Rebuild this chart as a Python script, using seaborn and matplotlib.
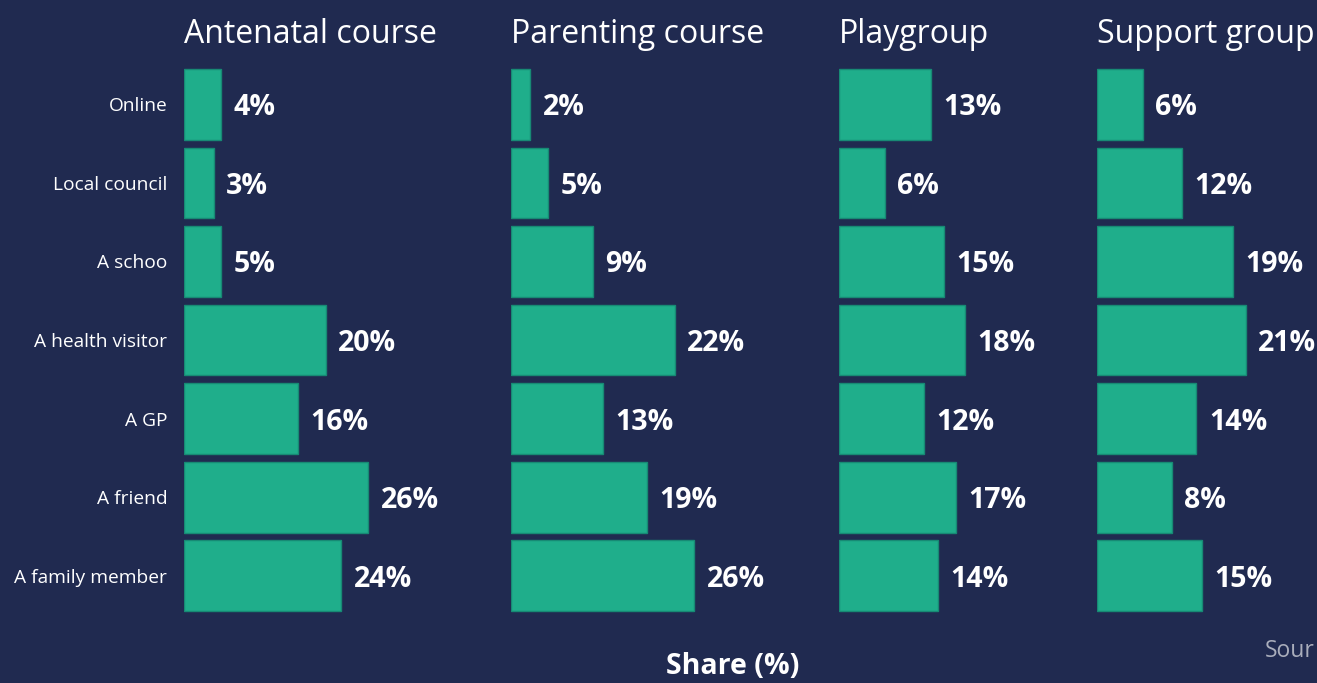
import pandas as pd
import matplotlib.pyplot as plt
import seaborn as sns

# where people heard about each kind of support
sources = ["Online", "Local council", "A schoo", "A health visitor", "A GP", "A friend", "A family member"]
panels = ["Antenatal course", "Parenting course", "Playgroup", "Support group"]

# bar lengths as drawn
antenatal = [5.3, 4.2, 5.3, 20.1, 16.1, 26.1, 22.3]
parenting = [2.7, 5.3, 11.6, 23.2, 13.0, 19.3, 26.0]
playgroup = [13.0, 6.5, 14.9, 17.9, 12.1, 16.6, 14.0]
support = [6.5, 12.1, 19.3, 21.1, 14.1, 10.6, 14.9]

# printed value labels
antenatal_lbl = ["4%", "3%", "5%", "20%", "16%", "26%", "24%"]
parenting_lbl = ["2%", "5%", "9%", "22%", "13%", "19%", "26%"]
playgroup_lbl = ["13%", "6%", "15%", "18%", "12%", "17%", "14%"]
support_lbl = ["6%", "12%", "19%", "21%", "14%", "8%", "15%"]

values = [antenatal, parenting, playgroup, support]
labels = [antenatal_lbl, parenting_lbl, playgroup_lbl, support_lbl]

bg = "#202a50"
teal = "#1fae8b"

sns.set_theme(style="white")
plt.rcParams["font.family"] = ["Open Sans", "DejaVu Sans"]

W, H = 1317, 683
fig = plt.figure(figsize=(W / 100, H / 100), dpi=100, facecolor=bg)

px_per_pct = 7.05
lefts = [184, 511, 839, 1097]
widths = [316, 317, 247, 300]
top, bottom = 65, 615

for i, name in enumerate(panels):
    df = pd.DataFrame({"source": sources, "share": values[i]})
    ax = fig.add_axes([lefts[i] / W, 1 - bottom / H, widths[i] / W, (bottom - top) / H])
    ax.set_facecolor("none")
    sns.barplot(data=df, x="share", y="source", orient="h", color=teal, width=0.9,
                edgecolor="#178a74", linewidth=1, saturation=1, ax=ax)
    ax.set_xlim(0, widths[i] / px_per_pct)
    ax.set_ylim(6.5, -0.5)
    txts = ax.bar_label(ax.containers[0], labels=labels[i], padding=9, color="white",
                        fontsize=20.5, fontweight="bold")
    for t in txts:
        # nudge labels a touch lower, like the original
        t.set_y(t.get_position()[1] - 2.5)
    ax.set_title(name, loc="left", color="white", fontsize=23, pad=16)
    ax.set_xlabel("")
    ax.set_ylabel("")
    ax.set_xticks([])
    sns.despine(ax=ax, left=True, bottom=True)
    if i == 0:
        ax.tick_params(axis="y", length=0, pad=12, labelcolor="white", labelsize=13.8)
    else:
        ax.set_yticks([])

fig.text(733 / W, 1 - 667 / H, "Share (%)", color="white", fontsize=20.5,
         fontweight="bold", ha="center", va="center")
fig.text(1265 / W, 1 - 651 / H, "Sour", color="#a9adbb", fontsize=16.5, ha="left", va="center")

fig.savefig("out.png", dpi=100, facecolor=bg)
